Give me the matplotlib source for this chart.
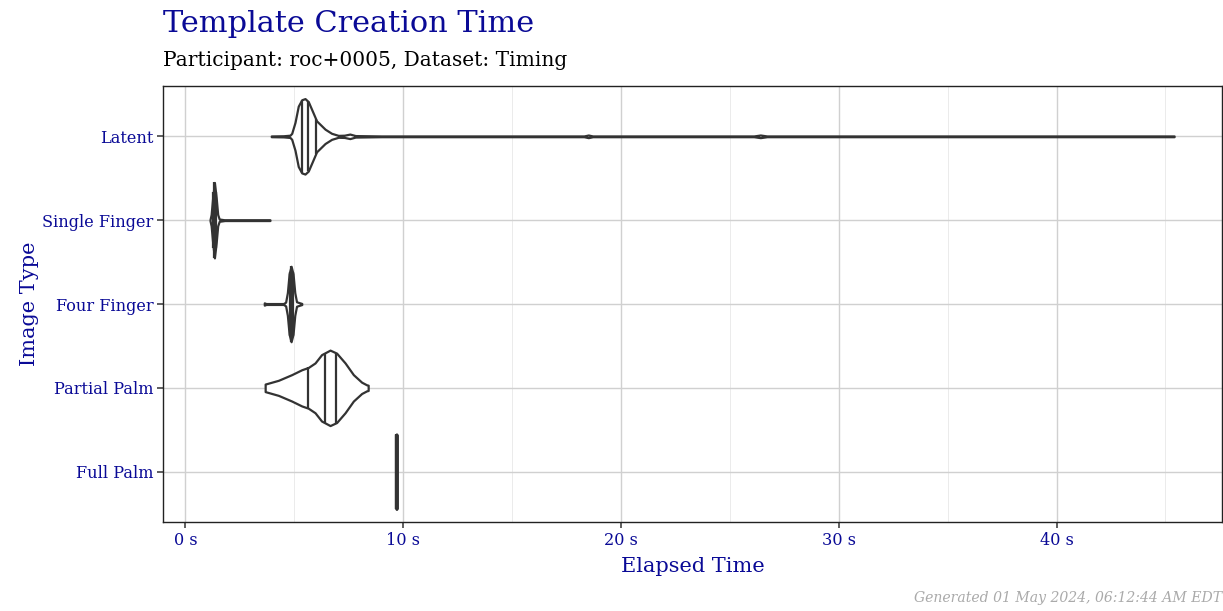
import numpy as np
import matplotlib.pyplot as plt

image_types = ["Full Palm", "Partial Palm", "Four Finger", "Single Finger", "Latent"]

# violin outlines: elapsed seconds and relative half-width
latent_t = [3.94, 4.5, 4.80, 4.88, 5.03, 5.18, 5.34, 5.49, 5.64, 5.79, 6.02, 6.41, 6.71,
            7.02, 7.3, 7.55, 7.8, 9.0, 18.3, 18.5, 18.7, 26.1, 26.4, 26.7, 45.4]
latent_w = [0.01, 0.015, 0.03, 0.08, 0.37, 0.80, 0.97, 1.0, 0.92, 0.72, 0.41, 0.19, 0.08,
            0.025, 0.03, 0.06, 0.02, 0.01, 0.01, 0.035, 0.01, 0.01, 0.035, 0.01, 0.01]
single_t = [1.13, 1.18, 1.25, 1.33, 1.41, 1.48, 1.55, 1.8, 3.88]
single_w = [0.02, 0.15, 0.6, 1.0, 0.6, 0.15, 0.03, 0.01, 0.01]
four_t = [3.62, 3.7, 4.5, 4.6, 4.68, 4.76, 4.85, 4.94, 5.02, 5.1, 5.2, 5.34]
four_w = [0.03, 0.012, 0.012, 0.05, 0.3, 0.8, 1.0, 0.8, 0.3, 0.06, 0.04, 0.015]
partial_t = [3.66, 4.27, 4.88, 5.34, 5.64, 5.95, 6.25, 6.64, 6.94, 7.33, 7.71, 8.09, 8.32, 8.39]
partial_w = [0.10, 0.20, 0.35, 0.48, 0.54, 0.66, 0.88, 1.0, 0.92, 0.66, 0.35, 0.15, 0.08, 0.07]
full_t = [9.65, 9.69, 9.73]
full_w = [0.97, 1.0, 0.97]

# 25th, 50th, 75th percentiles
latent_q = [5.34, 5.62, 5.98]
single_q = [1.28, 1.33, 1.38]
four_q = [4.78, 4.85, 4.92]
partial_q = [5.64, 6.41, 6.91]
full_q = [9.67, 9.69, 9.71]

x_ticks = [0, 10, 20, 30, 40]

violins = {
    "Full Palm": (full_t, full_w, full_q),
    "Partial Palm": (partial_t, partial_w, partial_q),
    "Four Finger": (four_t, four_w, four_q),
    "Single Finger": (single_t, single_w, single_q),
    "Latent": (latent_t, latent_w, latent_q),
}

plt.rcParams['font.family'] = ['DejaVu Serif']
navy = '#0a0a96'
dark = '#333333'

fig = plt.figure(figsize=(12.23, 6.11), dpi=100)
ax = fig.add_axes([0.1333, 0.1457, 0.8659, 0.7135])

half = 0.45
for pos, name in enumerate(image_types, start=1):
    t, w, q = violins[name]
    t = np.array(t)
    w = np.array(w) * half
    ax.fill_between(t, pos - w, pos + w, facecolor='white', edgecolor=dark, lw=1.6, zorder=3)
    hw = np.interp(q, t, w)
    ax.vlines(q, pos - hw, pos + hw, color=dark, lw=1.6, zorder=4)

ax.set_xlim(-1.03, 47.6)
ax.set_ylim(0.4, 5.6)
ax.set_xticks(x_ticks)
ax.set_xticklabels([f"{v} s" for v in x_ticks])
ax.set_xticks([5, 15, 25, 35, 45], minor=True)
ax.set_yticks(range(1, len(image_types) + 1))
ax.set_yticklabels(image_types)

ax.grid(which='major', color='#d0d0d0', lw=1.0, zorder=0)
ax.grid(which='minor', axis='x', color='#e8e8e8', lw=0.6, zorder=0)
ax.set_axisbelow(True)
ax.tick_params(which='major', length=4, width=1.1, color=dark, labelcolor=navy, labelsize=11.6, pad=3)
ax.tick_params(which='minor', length=0)
for s in ax.spines.values():
    s.set_color('#222222')
    s.set_linewidth(1.0)

ax.set_xlabel("Elapsed Time", color=navy, fontsize=15, labelpad=6)
ax.set_ylabel("Image Type", color=navy, fontsize=15, labelpad=2)

fig.text(0.1333, 0.947, "Template Creation Time", color=navy, fontsize=21.9, ha='left', va='baseline')
fig.text(0.1333, 0.892, "Participant: roc+0005, Dataset: Timing", color='black', fontsize=14.5,
         ha='left', va='baseline')
fig.text(0.999, 0.014, "Generated 01 May 2024, 06:12:44 AM EDT", color='#aaaaaa', fontsize=10.1,
         style='italic', ha='right', va='baseline')

fig.savefig("out.png", dpi=100)
